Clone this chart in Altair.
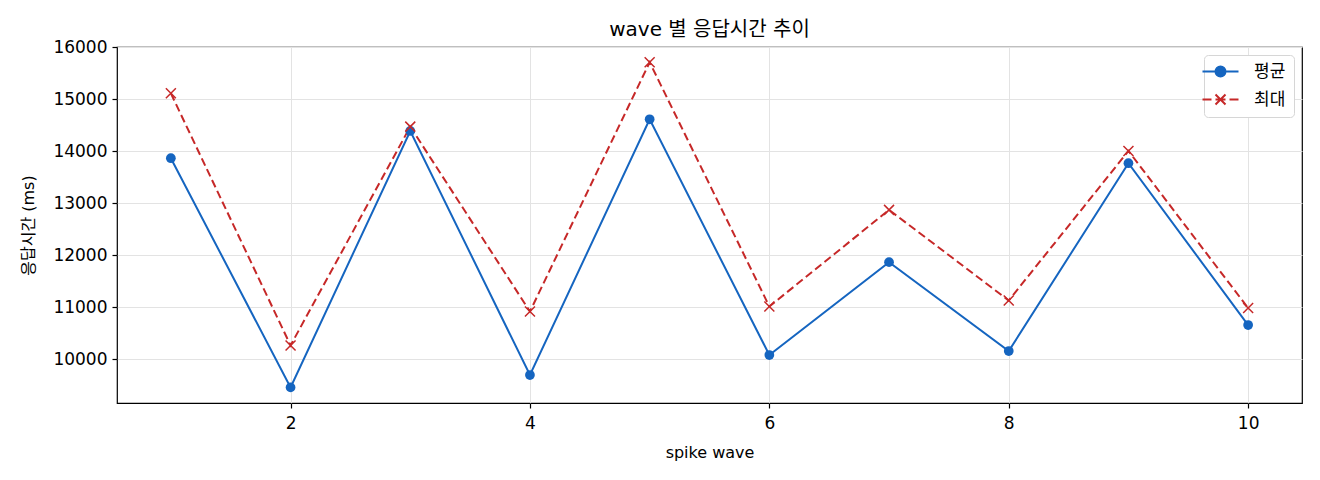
import altair as alt
import pandas as pd

waves = [1, 2, 3, 4, 5, 6, 7, 8, 9, 10]
mean_ms = [13865, 9454, 14390, 9692, 14615, 10077, 11865, 10154, 13769, 10654]
max_ms = [15115, 10262, 14473, 10915, 15712, 11012, 12871, 11127, 14006, 10981]
series_names = ["평균", "최대"]
colors = ["#1565c0", "#c62828"]
x_ticks = [2, 4, 6, 8, 10]
y_ticks = [10000, 11000, 12000, 13000, 14000, 15000, 16000]

FONT = "DejaVu Sans, Noto Sans CJK KR"

df = pd.DataFrame(
    {
        "wave": waves * 2,
        "ms": mean_ms + max_ms,
        "series": [series_names[0]] * len(waves) + [series_names[1]] * len(waves),
    }
)

x_enc = alt.X(
    "wave:Q",
    scale=alt.Scale(domain=[0.55, 10.45], nice=False, zero=False),
    axis=alt.Axis(values=x_ticks, title="spike wave", format="d"),
)
y_enc = alt.Y(
    "ms:Q",
    scale=alt.Scale(domain=[9154, 16006], nice=False, zero=False),
    axis=alt.Axis(values=y_ticks, title="응답시간 (ms)", format="d"),
)

base = alt.Chart(df).encode(x=x_enc, y=y_enc)

mean_line = base.transform_filter(alt.datum.series == series_names[0]).mark_line(
    color=colors[0], strokeWidth=2
)
mean_pts = base.transform_filter(alt.datum.series == series_names[0]).mark_point(
    shape="circle", filled=True, size=95, color=colors[0], opacity=1
)
max_line = base.transform_filter(alt.datum.series == series_names[1]).mark_line(
    color=colors[1], strokeWidth=2, strokeDash=[8, 4]
)
X_PATH = "M-1,-1L1,1M-1,1L1,-1"
max_pts = base.transform_filter(alt.datum.series == series_names[1]).mark_point(
    shape=X_PATH, filled=False, size=100, color=colors[1], strokeWidth=1.5, opacity=1
)

LEG_MEAN = "M-3.6,0L3.6,0M-1,0A1,1 0 1,0 1,0A1,1 0 1,0 -1,0Z"
LEG_MAX = "M-3.6,0L-1.8,0M-1,0L1,0M1.8,0L3.6,0M-1,-1L1,1M-1,1L1,-1"

legend_layer = (
    alt.Chart(df)
    .transform_filter(alt.datum.wave > 1000)
    .mark_point(filled=True, size=100, strokeWidth=2, opacity=1)
    .encode(
        x=x_enc,
        y=y_enc,
        color=alt.Color(
            "series:N",
            scale=alt.Scale(domain=series_names, range=colors),
            legend=alt.Legend(title=None),
        ),
        stroke=alt.Stroke(
            "series:N",
            scale=alt.Scale(domain=series_names, range=colors),
            legend=alt.Legend(title=None),
        ),
        shape=alt.Shape(
            "series:N",
            scale=alt.Scale(domain=series_names, range=[LEG_MEAN, LEG_MAX]),
            legend=alt.Legend(title=None),
        ),
    )
)

chart = (
    alt.layer(mean_line, max_line, mean_pts, max_pts, legend_layer)
    .properties(
        width=1185,
        height=356,
        title=alt.TitleParams(
            "wave 별 응답시간 추이",
            font=FONT,
            fontSize=20,
            fontWeight="normal",
            color="#000000",
            anchor="middle",
            offset=-2,
        ),
        autosize=alt.AutoSizeParams(type="none"),
        padding={"left": 109, "top": 39, "right": 10, "bottom": 60},
    )
    .configure_view(stroke="#000000", strokeWidth=1.2)
    .configure_axis(
        labelFont=FONT,
        titleFont=FONT,
        labelFontSize=17,
        titleFontSize=16,
        titleFontWeight="normal",
        labelColor="#000000",
        titleColor="#000000",
        domain=False,
        tickColor="#000000",
        tickSize=5,
        tickWidth=1.2,
        grid=True,
        gridColor="#e3e3e3",
        gridWidth=1,
        labelPadding=5,
    )
    .configure_axisX(titlePadding=13, labelPadding=7)
    .configure_axisY(titlePadding=16)
    .configure_legend(
        orient="top-right",
        offset=8,
        padding=8,
        strokeColor="#d6d6d6",
        cornerRadius=4,
        fillColor="#ffffff",
        labelFont=FONT,
        labelFontSize=17,
        labelColor="#000000",
        symbolSize=100,
        symbolStrokeWidth=2,
        labelOffset=25,
        rowPadding=9,
    )
)

chart.save("out.html", embed_options={"renderer": "svg", "actions": False})
